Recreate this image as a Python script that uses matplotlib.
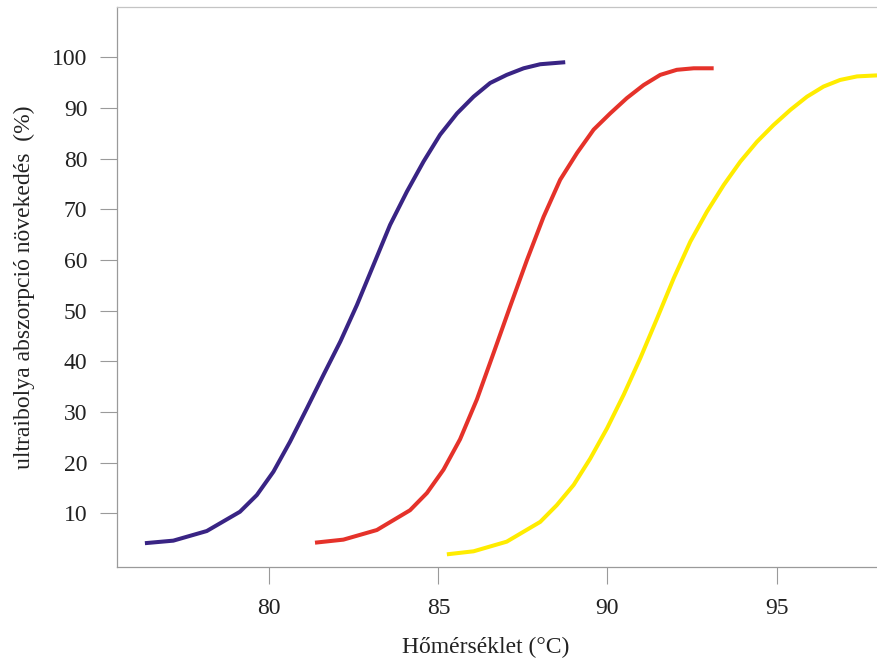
import matplotlib

matplotlib.use("Agg")
from matplotlib import pyplot as plt

# (temperature in degC, increase in %)
purple_t = [76.32, 77.16, 78.15, 79.13, 79.63, 80.12, 80.61, 81.11, 81.60, 82.10, 82.59, 83.08,
            83.57, 84.07, 84.56, 85.05, 85.55, 86.04, 86.53, 87.02, 87.52, 88.01, 88.75]
purple_y = [4.1, 4.6, 6.5, 10.3, 13.6, 18.2, 24.1, 30.7, 37.3, 43.9, 51.1, 59.0,
            66.9, 73.5, 79.4, 84.7, 88.9, 92.2, 94.9, 96.5, 97.8, 98.6, 99.0]

red_t = [81.35, 82.19, 83.18, 84.16, 84.66, 85.15, 85.64, 86.14, 86.63, 87.12, 87.62,
         88.11, 88.60, 89.10, 89.59, 90.08, 90.57, 91.07, 91.56, 92.05, 92.55, 93.14]
red_y = [4.2, 4.8, 6.7, 10.6, 14.0, 18.6, 24.6, 32.5, 41.6, 50.8, 60.0,
         68.5, 75.8, 81.1, 85.7, 88.9, 91.9, 94.5, 96.5, 97.5, 97.8, 97.8]

yellow_t = [85.25, 86.04, 87.02, 88.01, 88.50, 89.00, 89.49, 89.99, 90.48, 90.97, 91.47, 91.96,
            92.45, 92.94, 93.44, 93.93, 94.42, 94.91, 95.41, 95.90, 96.39, 96.88, 97.38, 97.97]
yellow_y = [1.9, 2.5, 4.4, 8.3, 11.6, 15.6, 20.8, 26.8, 33.4, 40.6, 48.5, 56.4,
            63.6, 69.5, 74.8, 79.4, 83.3, 86.6, 89.6, 92.2, 94.2, 95.5, 96.2, 96.4]

x_ticks = [80, 85, 90, 95]
y_ticks = [10, 20, 30, 40, 50, 60, 70, 80, 90, 100]

plt.rcParams["font.family"] = ["Liberation Serif", "DejaVu Serif"]

fig = plt.figure(figsize=(8.78, 6.61), dpi=100)
ax = fig.add_axes([0.1327, 0.1422, 0.8673, 0.8465])

for t, y, c in [
    (purple_t, purple_y, "#392484"),
    (red_t, red_y, "#e5322a"),
    (yellow_t, yellow_y, "#ffec00"),
]:
    ax.plot(t, y, color=c, lw=2.9, solid_capstyle="butt", solid_joinstyle="round")

ax.set_xlim(75.48, 98.0)
ax.set_ylim(-0.6, 109.8)
ax.set_xticks(x_ticks)
ax.set_yticks(y_ticks)

for s in ["left", "bottom"]:
    ax.spines[s].set_color("#9a9a9a")
    ax.spines[s].set_linewidth(0.9)
ax.spines["top"].set_color("#c4c4c4")
ax.spines["top"].set_linewidth(0.9)
ax.spines["right"].set_visible(False)

ax.tick_params(axis="both", direction="out", length=12, width=0.8, color="#9a9a9a", labelsize=17, labelcolor="#222222")
ax.tick_params(axis="x", pad=10)
ax.tick_params(axis="y", pad=9)

ax.set_xlabel("Hőmérséklet (°C)", fontsize=17, color="#222222", labelpad=12)
ax.set_ylabel("ultraibolya abszorpció növekedés  (%)", fontsize=17, color="#222222", labelpad=12)
ax.xaxis.set_label_coords(0.485, -0.125)

fig.savefig("out.png", dpi=100)
